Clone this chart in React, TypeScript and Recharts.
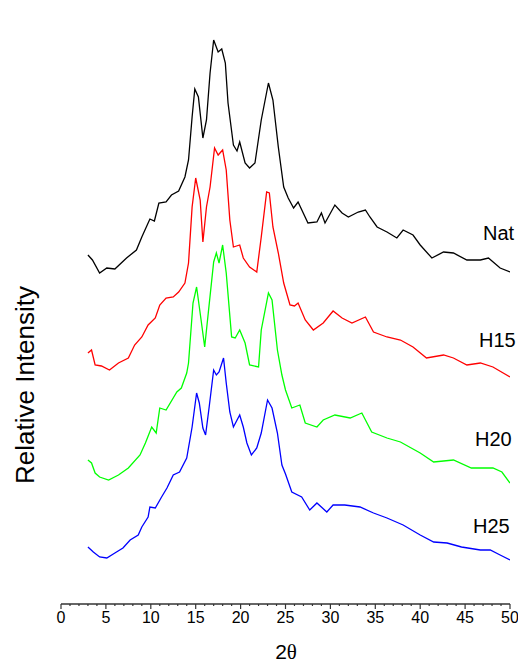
import React from 'react';
import { LineChart, Line, XAxis, YAxis, Customized } from 'recharts';

// [2θ, relative intensity (offset trace)]
const NAT: [number, number][] = [
  [3.0, 349], [3.5, 344], [4.3, 331], [5.1, 336], [6.0, 335], [7.3, 346], [8.4, 354], [9.0, 367], [9.9, 385], [10.4, 383],
  [10.9, 401], [11.7, 402], [12.3, 409], [13.1, 413], [13.8, 427], [14.2, 444], [14.6, 487], [14.9, 515], [15.3, 507], [15.8, 466],
  [16.2, 484], [16.6, 531], [17.0, 564], [17.5, 552], [17.9, 555], [18.3, 541], [18.6, 501], [19.2, 459], [19.6, 453], [19.9, 462],
  [20.5, 441], [21.0, 436], [21.6, 441], [22.3, 484], [23.1, 521], [23.6, 504], [24.2, 457], [24.8, 417], [25.3, 406], [25.9, 396],
  [26.4, 402], [27.5, 381], [28.5, 382], [29.0, 391], [29.4, 381], [30.5, 399], [31.3, 391], [32.0, 387], [33.1, 392], [33.9, 394],
  [34.4, 387], [35.2, 377], [36.3, 372], [37.4, 366], [38.1, 374], [39.2, 369], [40.0, 359], [41.3, 346], [42.6, 352], [43.7, 351],
  [45.2, 344], [46.7, 344], [47.6, 346], [48.9, 336], [50.0, 332],
];

const H15: [number, number][] = [
  [3.0, 251], [3.4, 254], [3.8, 239], [4.5, 238], [5.4, 234], [6.4, 241], [7.5, 246], [8.2, 259], [9.0, 267], [9.7, 279],
  [10.5, 286], [11.0, 299], [11.7, 306], [12.5, 307], [13.1, 312], [13.8, 321], [14.2, 341], [14.6, 397], [15.0, 426], [15.5, 404],
  [15.8, 362], [16.2, 397], [16.6, 417], [17.1, 456], [17.5, 449], [18.0, 454], [18.4, 434], [18.8, 384], [19.2, 357], [19.9, 359],
  [20.3, 346], [21.0, 337], [21.8, 332], [22.3, 367], [22.9, 412], [23.2, 411], [23.6, 377], [24.2, 351], [24.8, 321], [25.5, 299],
  [26.0, 298], [26.4, 301], [27.2, 284], [28.1, 274], [29.2, 281], [30.3, 293], [31.3, 286], [32.4, 281], [33.9, 287], [34.8, 272],
  [36.3, 267], [37.8, 264], [39.2, 257], [40.7, 246], [42.6, 249], [43.7, 246], [45.2, 239], [46.7, 241], [48.1, 237], [50.0, 227],
];

const H20: [number, number][] = [
  [3.0, 144], [3.4, 141], [3.8, 131], [4.3, 127], [5.3, 124], [6.4, 129], [7.5, 136], [8.8, 149], [9.4, 161], [10.1, 177],
  [10.6, 171], [11.0, 196], [11.7, 194], [12.9, 212], [13.4, 216], [14.0, 231], [14.2, 241], [14.7, 301], [15.1, 317], [15.6, 284],
  [16.0, 257], [16.4, 291], [17.0, 342], [17.3, 351], [17.6, 341], [18.0, 359], [18.4, 331], [19.0, 267], [19.4, 266], [19.9, 274],
  [20.5, 261], [21.0, 239], [22.0, 237], [22.3, 274], [23.1, 311], [23.5, 304], [24.1, 254], [24.6, 229], [25.0, 214], [25.7, 196],
  [26.6, 199], [27.2, 181], [28.5, 177], [29.2, 184], [30.5, 189], [32.2, 186], [33.5, 191], [34.6, 172], [36.3, 166], [37.8, 162],
  [40.0, 151], [41.5, 142], [43.7, 144], [45.7, 136], [48.1, 136], [49.1, 132], [50.0, 121],
];

const H25: [number, number][] = [
  [3.0, 57], [3.6, 52], [4.3, 47], [5.1, 46], [6.0, 51], [6.9, 56], [7.7, 64], [8.6, 69], [9.0, 77], [9.7, 87],
  [9.9, 97], [10.5, 96], [11.2, 107], [11.8, 116], [12.5, 129], [13.2, 132], [14.0, 146], [14.6, 177], [15.1, 211], [15.4, 201],
  [15.8, 176], [16.1, 169], [16.5, 197], [17.0, 234], [17.3, 229], [17.6, 232], [18.1, 246], [18.4, 221], [18.8, 192], [19.2, 177],
  [19.9, 189], [20.3, 177], [20.7, 161], [21.2, 149], [21.8, 156], [22.3, 171], [23.0, 204], [23.5, 196], [24.1, 171], [24.6, 139],
  [25.0, 130], [25.7, 112], [26.8, 107], [27.7, 94], [28.5, 101], [29.6, 92], [30.3, 99], [31.6, 99], [33.3, 97], [34.8, 91],
  [36.3, 86], [38.1, 79], [40.0, 69], [41.5, 62], [43.0, 61], [44.6, 57], [46.7, 54], [47.8, 54], [48.9, 49], [50.0, 44],
];

const SERIES_NAMES = ['Nat', 'H15', 'H20', 'H25'];
const SERIES_COLORS = ['#000000', '#ff0000', '#00ff00', '#0000ff'];
const X_TICKS = Array.from({ length: 51 }, (_, i) => i);
const X_DOMAIN: [number, number] = [0, 50];
const Y_DOMAIN: [number, number] = [0, 589];

const toRows = (pts: [number, number][]) => pts.map(([x, y]) => ({ x, y }));
const SERIES = [NAT, H15, H20, H25].map(toRows);

const FONT = '"Liberation Sans", Arial, sans-serif';
const AXIS = '#333333';

const XTick = (props: any) => {
  const { x, y, payload } = props;
  const v = payload.value as number;
  const major = v % 5 === 0;
  return (
    <g>
      <line x1={x} x2={x} y1={y} y2={y + (major ? 5 : 2)} stroke={AXIS} strokeWidth={1.2} />
      {major && (
        <text x={x} y={y + 8} dy="0.71em" textAnchor="middle" fontSize={16} fontFamily={FONT} fill="#000">
          {v}
        </text>
      )}
    </g>
  );
};

const LABEL_POS = [
  { x: 475, y: 232 },
  { x: 471, y: 339 },
  { x: 467, y: 438 },
  { x: 465, y: 525 },
];

const Overlay = () => (
  <g>
    {SERIES_NAMES.map((n, i) => (
      <text key={n} x={LABEL_POS[i].x} y={LABEL_POS[i].y} fontSize={20} fontFamily={FONT} fill="#000">
        {n}
      </text>
    ))}
    <text
      x={17}
      y={377}
      transform="rotate(-90, 17, 377)"
      textAnchor="middle"
      dominantBaseline="central"
      fontSize={26}
      fontFamily={FONT}
      fill="#000"
    >
      Relative Intensity
    </text>
    <text x={278} y={651} textAnchor="middle" fontSize={21} fontFamily={FONT} fill="#000">
      2<tspan fontFamily='"Liberation Serif", "Times New Roman", serif'>θ</tspan>
    </text>
  </g>
);

export default function App() {
  return (
    <div style={{ width: 518, height: 657 }}>
      <LineChart width={518} height={657} margin={{ top: 7, right: 16, bottom: 0, left: 53 }}>
        <XAxis
          dataKey="x"
          type="number"
          domain={X_DOMAIN}
          ticks={X_TICKS}
          interval={0}
          allowDataOverflow
          height={61}
          tickSize={0}
          tickMargin={0}
          tickLine={false}
          tick={<XTick />}
          axisLine={{ stroke: AXIS, strokeWidth: 1.5 }}
        />
        <YAxis
          dataKey="y"
          type="number"
          domain={Y_DOMAIN}
          allowDataOverflow
          width={0}
          tick={false}
          tickLine={false}
          axisLine={{ stroke: AXIS, strokeWidth: 1.5 }}
        />
        {SERIES.map((d, i) => (
          <Line
            key={SERIES_NAMES[i]}
            data={d}
            dataKey="y"
            type="linear"
            stroke={SERIES_COLORS[i]}
            strokeWidth={1.3}
            dot={false}
            activeDot={false}
            isAnimationActive={false}
          />
        ))}
        <Customized component={Overlay} />
      </LineChart>
    </div>
  );
}
